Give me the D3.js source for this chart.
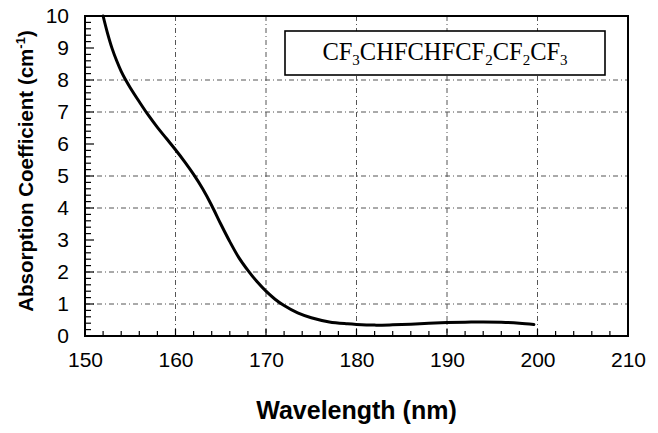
<!DOCTYPE html>
<html>
<head>
<meta charset="utf-8">
<script src="https://cdn.jsdelivr.net/npm/d3@7"></script>
<style>
  html, body { margin: 0; padding: 0; background: #fff; }
  svg { display: block; }
</style>
</head>
<body>
<svg id="chart" width="658" height="433"></svg>
<script>
// ---- data ----
const wavelength = [152.0, 152.5, 153.0, 153.5, 154.0, 154.5, 155.0, 156.0, 157.0, 158.0,
  159.0, 160.0, 161.0, 162.0, 163.0, 164.0, 165.0, 166.0, 167.0, 168.0,
  169.0, 170.0, 171.0, 172.0, 173.5, 175.0, 177.0, 179.0, 180.0, 182.0,
  184.0, 186.0, 188.0, 190.0, 192.0, 194.0, 196.0, 198.0, 199.6];
const absorption = [10.0, 9.45, 8.98, 8.6, 8.27, 8.0, 7.76, 7.32, 6.9, 6.52,
  6.17, 5.82, 5.45, 5.05, 4.6, 4.08, 3.5, 2.95, 2.45, 2.05,
  1.7, 1.4, 1.15, 0.95, 0.72, 0.57, 0.44, 0.38, 0.36, 0.34,
  0.35, 0.37, 0.40, 0.42, 0.43, 0.44, 0.43, 0.40, 0.36];
const xTicks = [150, 160, 170, 180, 190, 200, 210];
const yTicks = [0, 1, 2, 3, 4, 5, 6, 7, 8, 9, 10];
const xGrid = [160, 170, 180, 190, 200];
const yGrid = [1, 2, 4, 5, 7, 8];
const xTitle = "Wavelength (nm)";
const yTitle = "Absorption Coefficient (cm";
const legendParts = [["CF", "3"], ["CHFCHFCF", "2"], ["CF", "2"], ["CF", "3"]];

// ---- layout ----
const svg = d3.select("#chart");
const L = 85, R = 628, T = 16, B = 336;
const x = d3.scaleLinear().domain([150, 210]).range([L, R]);
const y = d3.scaleLinear().domain([0, 10]).range([B, T]);

// gridlines
const grid = svg.append("g").attr("stroke", "#555").attr("stroke-width", 1)
  .attr("stroke-dasharray", "5,3,1,3").attr("fill", "none");
grid.selectAll("line.v").data(xGrid).join("line").attr("class", "v")
  .attr("x1", d => x(d)).attr("x2", d => x(d)).attr("y1", T).attr("y2", B);
grid.selectAll("line.h").data(yGrid).join("line").attr("class", "h")
  .attr("x1", L).attr("x2", R).attr("y1", d => y(d)).attr("y2", d => y(d));

// minor ticks (inside)
const xMinor = d3.range(150, 210.001, 2);
const yMinor = d3.range(0, 10.001, 0.2);
const ticks = svg.append("g").attr("stroke", "#000").attr("stroke-width", 1.2);
ticks.selectAll("line.xm").data(xMinor).join("line").attr("class", "xm")
  .attr("x1", d => x(d)).attr("x2", d => x(d))
  .attr("y1", B).attr("y2", d => B - (Math.abs(d % 10) < 0.01 ? 7 : 5));
ticks.selectAll("line.ym").data(yMinor).join("line").attr("class", "ym")
  .attr("x1", L).attr("x2", d => L + (Math.abs(d - Math.round(d)) < 0.01 ? 9 : 6))
  .attr("y1", d => y(d)).attr("y2", d => y(d));

// axis tick labels via d3 axes
const xAxis = d3.axisBottom(x).tickValues(xTicks).tickSize(0).tickPadding(16).tickFormat(d3.format("d"));
const gx = svg.append("g").attr("transform", `translate(0,${B})`).call(xAxis);
gx.select(".domain").remove();
gx.selectAll("text").attr("font-family", "Liberation Sans, Arial, sans-serif")
  .attr("font-size", 21).attr("fill", "#000");

const yAxis = d3.axisLeft(y).tickValues(yTicks).tickSize(0).tickPadding(16).tickFormat(d3.format("d"));
const gy = svg.append("g").attr("transform", `translate(${L},0)`).call(yAxis);
gy.select(".domain").remove();
gy.selectAll("text").attr("font-family", "Liberation Sans, Arial, sans-serif")
  .attr("font-size", 21).attr("fill", "#000");

// curve
const line = d3.line().x((d, i) => x(wavelength[i])).y(d => y(d)).curve(d3.curveCatmullRom.alpha(0.5));
svg.append("path").datum(absorption).attr("d", line)
  .attr("fill", "none").attr("stroke", "#000").attr("stroke-width", 3)
  .attr("stroke-linejoin", "round").attr("stroke-linecap", "round");

// frame
svg.append("rect").attr("x", L).attr("y", T).attr("width", R - L).attr("height", B - T)
  .attr("fill", "none").attr("stroke", "#000").attr("stroke-width", 2);

// legend box
svg.append("rect").attr("x", 285).attr("y", 31).attr("width", 320).attr("height", 44)
  .attr("fill", "#fff").attr("stroke", "#000").attr("stroke-width", 1.6);
const lt = svg.append("text").attr("x", 445).attr("y", 60).attr("text-anchor", "middle")
  .attr("font-family", "Liberation Serif, Times New Roman, serif").attr("font-size", 24.5).attr("fill", "#000");
legendParts.forEach(([main, sub], i) => {
  lt.append("tspan").attr("dy", i === 0 ? 0 : -5).text(main);
  lt.append("tspan").attr("font-size", 15).attr("dy", 5).text(sub);
});

// axis titles
svg.append("text").attr("x", (L + R) / 2).attr("y", 419).attr("text-anchor", "middle")
  .attr("font-family", "Liberation Sans, Arial, sans-serif").attr("font-weight", "bold")
  .attr("font-size", 25).attr("fill", "#000").text(xTitle);

const yt = svg.append("text").attr("transform", "translate(33,171) rotate(-90)")
  .attr("text-anchor", "middle")
  .attr("font-family", "Liberation Sans, Arial, sans-serif").attr("font-weight", "bold")
  .attr("font-size", 20.5).attr("fill", "#000");
yt.append("tspan").text(yTitle);
yt.append("tspan").attr("font-size", 13).attr("dy", -8).text("-1");
yt.append("tspan").attr("font-size", 20.5).attr("dy", 8).text(")");
</script>
</body>
</html>
